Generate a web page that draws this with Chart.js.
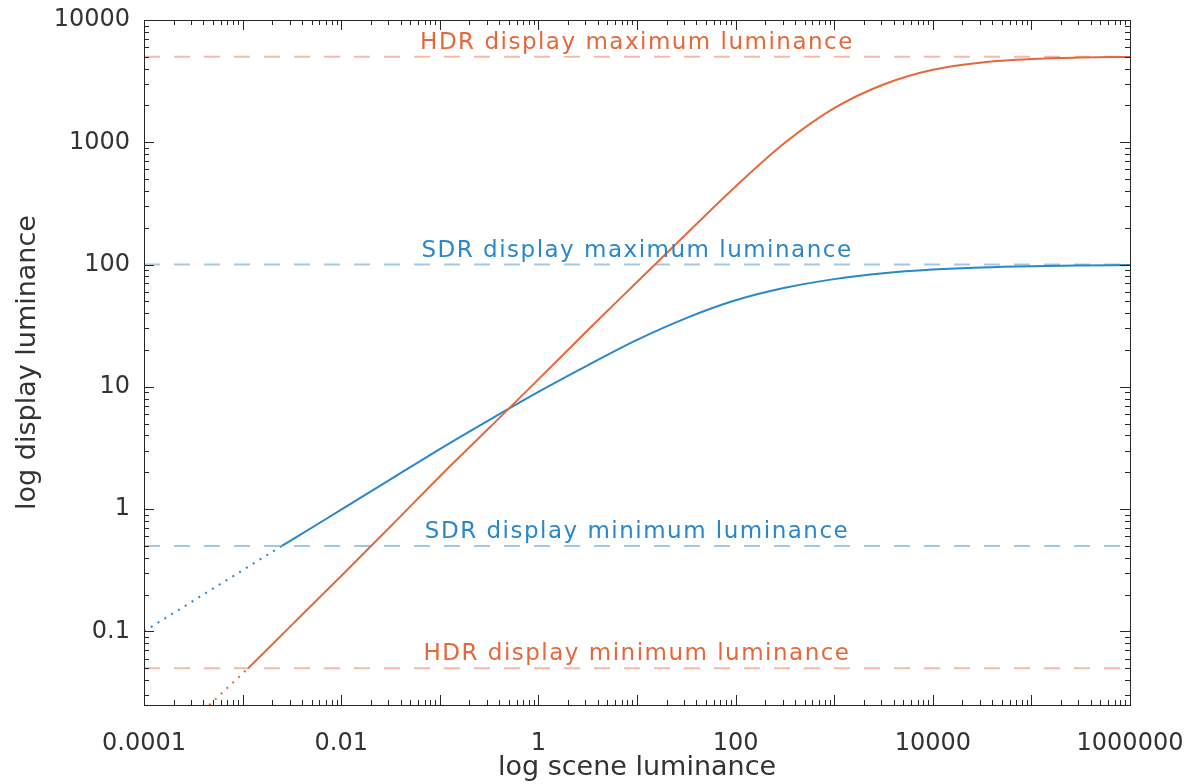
<!DOCTYPE html>
<html>
<head>
<meta charset="utf-8">
<script src="https://cdn.jsdelivr.net/npm/chart.js@4"></script>
<style>
  body { margin: 0; background: #fff; }
  #toneCurves { display: block; }
</style>
</head>
<body>
<canvas id="toneCurves" width="1190" height="784"></canvas>
<script>
// tick values and their labels
const sceneTicks = [1e-4, 1e-2, 1, 1e2, 1e4, 1e6];
const sceneTickLabels = ['0.0001', '0.01', '1', '100', '10000', '1000000'];
const displayTicks = [0.1, 1, 10, 100, 1000, 10000];
const displayTickLabels = ['0.1', '1', '10', '100', '1000', '10000'];

// SDR tone curve (solid part) and its dotted tail below the display minimum
const sdrScene = [0.0025, 0.00316, 0.01, 0.0316, 0.1, 0.316, 1, 3.16, 10, 31.6, 100, 316, 1000, 3160, 10000, 31600, 100000, 316000, 1000000];
const sdrDisplay = [0.5, 0.56, 0.99, 1.75, 3.1, 5.35, 9.1, 15, 24.2, 36.5, 51, 64.5, 76, 85, 91, 94.8, 97, 98.3, 99.2];
const sdrTailScene = [0.0001, 0.0025];
const sdrTailDisplay = [0.1, 0.5];

// HDR tone curve (solid part) and its dotted tail
const hdrScene = [0.00114, 0.00316, 0.01, 0.0316, 0.1, 0.316, 1, 3.16, 10, 31.6, 100, 316, 1000, 3160, 10000, 31600, 100000, 316000, 1000000];
const hdrDisplay = [0.05, 0.113, 0.284, 0.72, 1.85, 4.6, 11.5, 29, 72, 178, 435, 990, 1900, 2970, 3920, 4500, 4800, 4930, 4990];
const hdrTailScene = [0.0004, 0.00114];
const hdrTailDisplay = [0.0225, 0.05];

// display limits
const limitNames = ['HDR display maximum luminance', 'SDR display maximum luminance', 'SDR display minimum luminance', 'HDR display minimum luminance'];
const limitValues = [5000, 100, 0.5, 0.05];
const limitKinds = ['hdr', 'sdr', 'sdr', 'hdr'];

const colors = {
  sdr: '#2a87c9',
  hdr: '#e4683b',
  sdrLight: 'rgba(42, 135, 201, 0.45)',
  hdrLight: 'rgba(228, 104, 59, 0.45)',
  axis: '#262626',
  text: '#333333'
};

const toPoints = (xs, ys) => xs.map((x, i) => ({ x: x, y: ys[i] }));

const limitSets = limitValues.map((v, i) => ({
  label: limitNames[i],
  data: [{ x: sceneTicks[0], y: v }, { x: sceneTicks[sceneTicks.length - 1], y: v }],
  borderColor: colors[limitKinds[i] + 'Light'],
  borderWidth: 2,
  borderDash: [16, 14],
  pointRadius: 0,
  showLine: true
}));

// ticks pointing inward on all four sides, plus the box
const boxTicks = {
  id: 'boxTicks',
  afterDraw(chart) {
    const { ctx, chartArea: a, scales: { x, y } } = chart;
    ctx.save();
    ctx.strokeStyle = colors.axis;
    ctx.lineWidth = 1;
    ctx.beginPath();
    for (let d = -4; d <= 6; d++) {
      for (let m = 1; m <= 9; m++) {
        const v = m * Math.pow(10, d);
        if (v < x.min || v > x.max) continue;
        const px = Math.round(x.getPixelForValue(v)) + 0.5;
        const len = m === 1 ? 10 : 5;
        ctx.moveTo(px, a.bottom); ctx.lineTo(px, a.bottom - len);
        ctx.moveTo(px, a.top); ctx.lineTo(px, a.top + len);
      }
    }
    for (let d = -2; d <= 4; d++) {
      for (let m = 1; m <= 9; m++) {
        const v = m * Math.pow(10, d);
        if (v < y.min || v > y.max) continue;
        const py = Math.round(y.getPixelForValue(v)) + 0.5;
        const len = m === 1 ? 10 : 5;
        ctx.moveTo(a.left, py); ctx.lineTo(a.left + len, py);
        ctx.moveTo(a.right, py); ctx.lineTo(a.right - len, py);
      }
    }
    ctx.stroke();
    ctx.strokeRect(Math.round(a.left) + 0.5, Math.round(a.top) + 0.5, Math.round(a.right - a.left), Math.round(a.bottom - a.top));

    // limit captions above each dashed line
    ctx.font = '23px "DejaVu Sans"';
    ctx.letterSpacing = '1.5px';
    ctx.textAlign = 'center';
    ctx.textBaseline = 'alphabetic';
    const cx = x.getPixelForValue(10);
    limitNames.forEach((t, i) => {
      ctx.fillStyle = colors[limitKinds[i]];
      ctx.fillText(t, cx, y.getPixelForValue(limitValues[i]) - 8);
    });
    ctx.restore();
  }
};

new Chart(document.getElementById('toneCurves'), {
  type: 'scatter',
  data: {
    datasets: [
      {
        label: 'HDR',
        data: toPoints(hdrScene, hdrDisplay),
        borderColor: colors.hdr,
        borderWidth: 2,
        pointRadius: 0,
        showLine: true,
        cubicInterpolationMode: 'monotone'
      },
      {
        label: 'HDR tail',
        data: toPoints(hdrTailScene, hdrTailDisplay),
        borderColor: colors.hdr,
        borderWidth: 2,
        borderDash: [2, 6],
        pointRadius: 0,
        showLine: true
      },
      {
        label: 'SDR',
        data: toPoints(sdrScene, sdrDisplay),
        borderColor: colors.sdr,
        borderWidth: 2,
        pointRadius: 0,
        showLine: true,
        cubicInterpolationMode: 'monotone'
      },
      {
        label: 'SDR tail',
        data: toPoints(sdrTailScene, sdrTailDisplay),
        borderColor: colors.sdr,
        borderWidth: 2,
        borderDash: [2, 6],
        pointRadius: 0,
        showLine: true
      },
      ...limitSets
    ]
  },
  options: {
    responsive: false,
    animation: false,
    events: [],
    layout: { padding: { top: 20, right: 60, left: 0, bottom: 0 } },
    plugins: {
      legend: { display: false },
      tooltip: { enabled: false }
    },
    scales: {
      x: {
        type: 'logarithmic',
        min: 1e-4,
        max: 1e6,
        afterBuildTicks: s => { s.ticks = sceneTicks.map(v => ({ value: v })); },
        afterFit: s => { s.height = 79; s.paddingLeft = 0; s.paddingRight = 0; },
        grid: { display: false, drawTicks: false },
        border: { display: false },
        ticks: {
          callback: (v, i) => sceneTickLabels[i],
          autoSkip: false,
          maxRotation: 0,
          padding: 24,
          color: colors.text,
          font: { family: 'DejaVu Sans', size: 24 }
        },
        title: {
          display: true,
          text: 'log scene luminance',
          color: colors.text,
          padding: { top: 0, bottom: 0 },
          font: { family: 'DejaVu Sans', size: 27 }
        }
      },
      y: {
        type: 'logarithmic',
        min: 0.025,
        max: 10000,
        afterBuildTicks: s => { s.ticks = displayTicks.map(v => ({ value: v })); },
        afterFit: s => { s.width = 144; s.paddingTop = 0; s.paddingBottom = 0; },
        grid: { display: false, drawTicks: false },
        border: { display: false },
        ticks: {
          callback: (v, i) => displayTickLabels[i],
          autoSkip: false,
          padding: 14,
          color: colors.text,
          font: { family: 'DejaVu Sans', size: 24 }
        },
        title: {
          display: true,
          text: 'log display luminance',
          color: colors.text,
          padding: { top: 12, bottom: 0 },
          font: { family: 'DejaVu Sans', size: 27 }
        }
      }
    }
  },
  plugins: [boxTicks]
});
</script>
</body>
</html>
